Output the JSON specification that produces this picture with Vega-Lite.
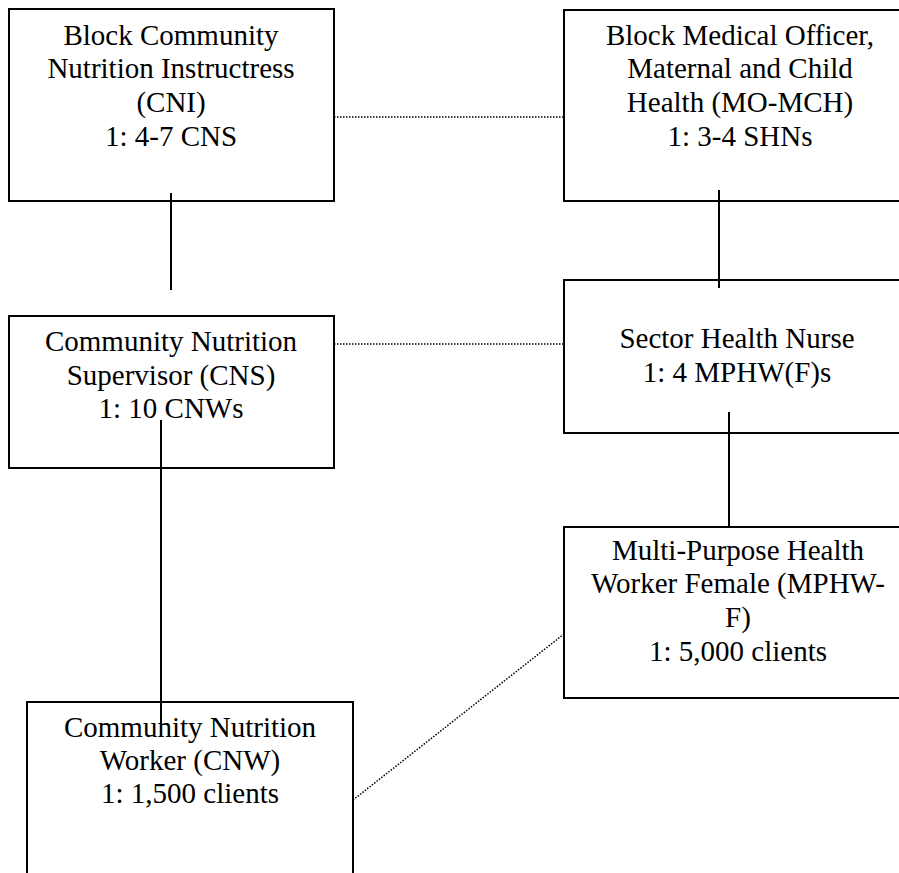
{
  "$schema": "https://vega.github.io/schema/vega-lite/v6.json",
  "width": 899,
  "height": 873,
  "padding": 0,
  "autosize": "none",
  "background": "white",
  "config": {"view": {"stroke": null}},
  "datasets": {
    "boxes": [
      {"box": "CNI", "x1": 9, "x2": 334, "y1": 9, "y2": 201},
      {"box": "MO-MCH", "x1": 564, "x2": 915, "y1": 10, "y2": 201},
      {"box": "CNS", "x1": 9, "x2": 334, "y1": 316, "y2": 468},
      {"box": "SHN", "x1": 564, "x2": 915, "y1": 280, "y2": 433},
      {"box": "MPHW-F", "x1": 564, "x2": 915, "y1": 527, "y2": 698},
      {"box": "CNW", "x1": 27, "x2": 353, "y1": 702, "y2": 900}
    ],
    "solid": [
      {"x1": 171, "y1": 193, "x2": 171, "y2": 290},
      {"x1": 719, "y1": 190, "x2": 719, "y2": 288},
      {"x1": 161, "y1": 420, "x2": 161, "y2": 728},
      {"x1": 729, "y1": 412, "x2": 729, "y2": 527}
    ],
    "dotted": [
      {"x1": 334, "y1": 117, "x2": 564, "y2": 117},
      {"x1": 334, "y1": 344, "x2": 564, "y2": 344},
      {"x1": 353, "y1": 800, "x2": 564, "y2": 634}
    ],
    "labels": [
      {"x": 171, "y": 45, "t": "Block Community"},
      {"x": 171, "y": 78, "t": "Nutrition Instructress"},
      {"x": 171, "y": 112, "t": "(CNI)"},
      {"x": 171, "y": 146, "t": "1: 4-7 CNS"},
      {"x": 740, "y": 45, "t": "Block Medical Officer,"},
      {"x": 740, "y": 78, "t": "Maternal and Child"},
      {"x": 740, "y": 112, "t": "Health (MO-MCH)"},
      {"x": 740, "y": 146, "t": "1: 3-4 SHNs"},
      {"x": 171, "y": 351, "t": "Community Nutrition"},
      {"x": 171, "y": 385, "t": "Supervisor (CNS)"},
      {"x": 171, "y": 418, "t": "1: 10 CNWs"},
      {"x": 737, "y": 348, "t": "Sector Health Nurse"},
      {"x": 737, "y": 382, "t": "1: 4 MPHW(F)s"},
      {"x": 738, "y": 560, "t": "Multi-Purpose Health"},
      {"x": 738, "y": 593, "t": "Worker Female (MPHW-"},
      {"x": 738, "y": 627, "t": "F)"},
      {"x": 738, "y": 661, "t": "1: 5,000 clients"},
      {"x": 190, "y": 737, "t": "Community Nutrition"},
      {"x": 190, "y": 770, "t": "Worker (CNW)"},
      {"x": 190, "y": 803, "t": "1: 1,500 clients"}
    ]
  },
  "layer": [
    {
      "data": {"name": "boxes"},
      "mark": {"type": "rect", "fill": "white", "stroke": "black", "strokeWidth": 2, "clip": true},
      "encoding": {
        "x": {"field": "x1", "type": "quantitative", "scale": {"domain": [0, 899], "nice": false, "zero": false}, "axis": null},
        "x2": {"field": "x2"},
        "y": {"field": "y1", "type": "quantitative", "scale": {"domain": [0, 873], "nice": false, "zero": false, "reverse": true}, "axis": null},
        "y2": {"field": "y2"}
      }
    },
    {
      "data": {"name": "solid"},
      "mark": {"type": "rule", "stroke": "black", "strokeWidth": 2, "clip": true},
      "encoding": {
        "x": {"field": "x1", "type": "quantitative"},
        "x2": {"field": "x2"},
        "y": {"field": "y1", "type": "quantitative"},
        "y2": {"field": "y2"}
      }
    },
    {
      "data": {"name": "dotted"},
      "mark": {"type": "rule", "stroke": "black", "strokeWidth": 1.5, "strokeDash": [1.5, 1.5], "clip": true},
      "encoding": {
        "x": {"field": "x1", "type": "quantitative"},
        "x2": {"field": "x2"},
        "y": {"field": "y1", "type": "quantitative"},
        "y2": {"field": "y2"}
      }
    },
    {
      "data": {"name": "labels"},
      "mark": {"type": "text", "font": "Liberation Serif", "fontSize": 29, "align": "center", "baseline": "alphabetic", "color": "black"},
      "encoding": {
        "x": {"field": "x", "type": "quantitative"},
        "y": {"field": "y", "type": "quantitative"},
        "text": {"field": "t"}
      }
    }
  ]
}
